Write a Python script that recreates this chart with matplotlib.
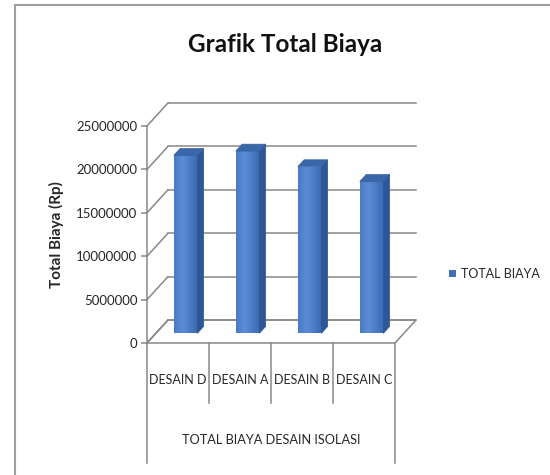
import matplotlib
matplotlib.use("Agg")
import matplotlib.pyplot as plt
import numpy as np
from matplotlib.patches import Polygon, Rectangle
from matplotlib.transforms import blended_transform_factory

# data
categories = ["DESAIN D", "DESAIN A", "DESAIN B", "DESAIN C"]
total_biaya = [20500000, 21000000, 19200000, 17500000]
y_ticks = [0, 5000000, 10000000, 15000000, 20000000, 25000000]
series_name = "TOTAL BIAYA"
group_label = "TOTAL BIAYA DESAIN ISOLASI"

W, H = 550, 475
fig = plt.figure(figsize=(W / 100, H / 100), dpi=100)
fig.patch.set_facecolor("white")

font = ["Lato", "DejaVu Sans"]
text_c = "#262626"

# front plane of the 3d box in pixels
px_left, px_right, py_bottom, py_top = 147, 395, 343, 126
ax = fig.add_axes([px_left / W, 1 - py_bottom / H,
                   (px_right - px_left) / W, (py_bottom - py_top) / H])
ax.patch.set_visible(False)

# depth offset of the back wall (x in category units, y in value units)
n = len(categories)
px_per_x = (px_right - px_left) / n
val_per_px = y_ticks[-1] / (py_bottom - py_top)
DX = 21 / px_per_x
DY = 23 * val_per_px
grid_c = "#878787"

# floor
ax.add_patch(Polygon([(0, 0), (n, 0), (n + DX, DY), (DX, DY)], closed=True,
                     facecolor="white", edgecolor=grid_c, lw=1.1, clip_on=False, zorder=1))

# back wall gridlines and left wall diagonals
for v in y_ticks:
    ax.plot([DX, n + DX], [v + DY, v + DY], color=grid_c, lw=1.1, clip_on=False, zorder=1)
    ax.plot([0, DX], [v, v + DY], color=grid_c, lw=1.1, clip_on=False, zorder=1)

# bars
t0, t1 = 0.42, 0.72
bw = 0.38
front_dark = np.array([0x3a, 0x69, 0xb0]) / 255
front_light = np.array([0x5b, 0x8d, 0xd6]) / 255
grad = np.linspace(0, 1, 64)
shade = 1 - np.abs(grad - 0.35) / 0.65
cmap_img = front_dark[None, :] + (front_light - front_dark)[None, :] * shade[:, None]
cmap_img = cmap_img[None, :, :]

for i, v in enumerate(total_biaya):
    c = i + 0.48
    x0, x1 = c - bw / 2, c + bw / 2
    fx0, fx1 = x0 + t0 * DX, x1 + t0 * DX
    fy0 = t0 * DY
    bx1 = x1 + t1 * DX
    by0 = t1 * DY
    front = Rectangle((fx0, fy0), fx1 - fx0, v, facecolor="none", edgecolor="none",
                      clip_on=False, zorder=3)
    ax.add_patch(front)
    im = ax.imshow(cmap_img, extent=[fx0, fx1, fy0, fy0 + v], aspect="auto",
                   zorder=3, interpolation="bilinear")
    im.set_clip_path(front)
    side = Polygon([(fx1, fy0), (bx1, by0), (bx1, v + by0), (fx1, v + fy0)], closed=True,
                   facecolor="#2d5796", edgecolor="#2d5796", lw=0.5, clip_on=False, zorder=3)
    top = Polygon([(fx0, v + fy0), (fx1, v + fy0), (bx1, v + by0), (x0 + t1 * DX, v + by0)],
                  closed=True, facecolor="#3a66aa", edgecolor="#35609f", lw=0.5,
                  clip_on=False, zorder=3)
    ax.add_patch(side)
    ax.add_patch(top)

ax.set_xlim(0, n)
ax.set_ylim(0, y_ticks[-1])

# axes
for s in ["top", "right", "bottom"]:
    ax.spines[s].set_visible(False)
ax.spines["left"].set_color(grid_c)
ax.spines["left"].set_linewidth(1.1)
ax.set_yticks(y_ticks)
ax.set_yticklabels([str(t) for t in y_ticks], family=font, fontsize=9.5, color=text_c)
ax.tick_params(axis="y", length=4, width=1.1, color=grid_c, pad=3)
ax.set_xticks([])
ax.set_ylabel("Total Biaya (Rp)", family=font, fontsize=11, fontweight="bold",
              color=text_c, labelpad=9)

# category labels and separators under the floor
trans = blended_transform_factory(ax.transData, ax.transAxes)
unit = 1 / (py_bottom - py_top)
for k in range(n + 1):
    bottom = -120 * unit if k in (0, n) else -60 * unit
    ax.plot([k, k], [0, bottom], color=grid_c, lw=1.1, transform=trans, clip_on=False)
for i, name in enumerate(categories):
    ax.text(i + 0.5, -37 * unit, name, transform=trans, ha="center", va="center",
            family=font, fontsize=9, color=text_c)
ax.text(n / 2, -97 * unit, group_label, transform=trans, ha="center", va="center",
        family=font, fontsize=9.2, color=text_c)

# title
fig.text(285 / W, 1 - 45 / H, "Grafik Total Biaya", ha="center", va="center",
         family=font, fontweight="bold", fontsize=17.5, color="#111111")

# legend
fig.patches.append(Rectangle((449 / W, 1 - 277 / H), 7 / W, 7 / H, transform=fig.transFigure,
                             facecolor="#3f70b8", edgecolor="none"))
fig.text(461 / W, 1 - 273.5 / H, series_name, ha="left", va="center", family=font,
         fontsize=9, color=text_c)

# outer border
fig.add_artist(plt.Line2D([15 / W, 15 / W], [0, 1 - 5 / H], transform=fig.transFigure,
                          color="#a0a0a0", lw=1.5))
fig.add_artist(plt.Line2D([15 / W, 1], [1 - 5 / H, 1 - 5 / H], transform=fig.transFigure,
                          color="#a0a0a0", lw=1.5))

fig.savefig("out.png", dpi=100, facecolor="white")
